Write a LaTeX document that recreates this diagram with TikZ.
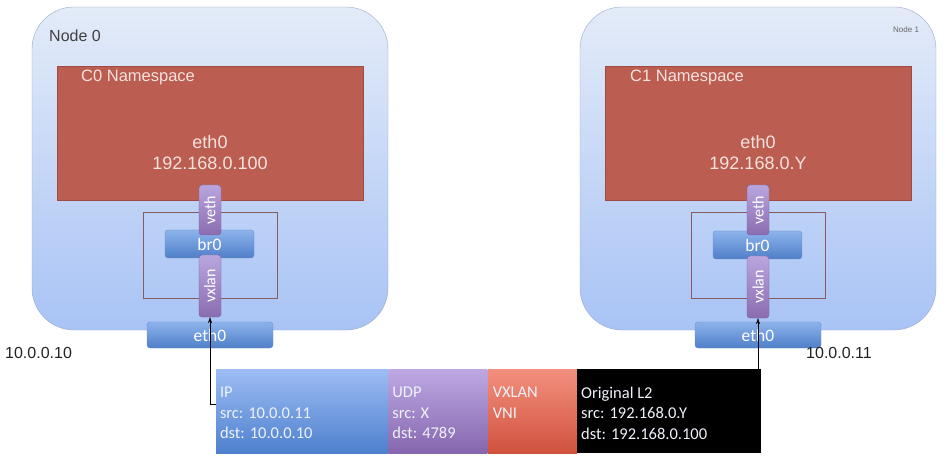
\documentclass[tikz,border=0pt]{standalone}
\usepackage{fontspec}
\setmainfont{Liberation Sans}
\newfontfamily\calibri{Carlito}
\usetikzlibrary{positioning, arrows.meta}

\definecolor{hosttop}{HTML}{E3EBF8}
\definecolor{hostbot}{HTML}{A8C3F5}
\definecolor{hostline}{HTML}{9AAAC8}
\definecolor{nsred}{HTML}{BB5D50}
\definecolor{nsline}{HTML}{A04A40}
\definecolor{nstext}{HTML}{F6E2DE}
\definecolor{brline}{HTML}{8A5A62}
\definecolor{devtop}{HTML}{8DB3EC}
\definecolor{devbot}{HTML}{4F7FC8}
\definecolor{devline}{HTML}{6A90CC}
\definecolor{porttop}{HTML}{B9A6DE}
\definecolor{portbot}{HTML}{8A6CB0}
\definecolor{portline}{HTML}{7A62A0}
\definecolor{iptop}{HTML}{9DBDF4}
\definecolor{ipbot}{HTML}{4E80CE}
\definecolor{udptop}{HTML}{BEA9E4}
\definecolor{udpbot}{HTML}{8566AE}
\definecolor{vxtop}{HTML}{F3907E}
\definecolor{vxbot}{HTML}{D0523E}
\definecolor{pkttext}{HTML}{EEF2FA}
\definecolor{lbltext}{HTML}{222222}

\begin{document}
\begin{tikzpicture}[x=1pt, y=-1pt, >={Stealth[length=6pt,width=4pt]},
    host/.style = {draw=hostline, rounded corners=42pt, top color=hosttop, bottom color=hostbot, minimum width=356pt, minimum height=323pt},
    ns/.style = {draw=nsline, fill=nsred, minimum width=306pt, minimum height=134pt},
    nslbl/.style = {text=nstext, font=\fontsize{16.5}{19}\selectfont},
    bridge/.style = {draw=brline, minimum width=134pt, minimum height=86pt},
    dev/.style = {draw=devline, rounded corners=3pt, top color=devtop, bottom color=devbot, text=white, inner sep=0pt, font=\calibri\fontsize{17.5}{20}\selectfont},
    port/.style = {draw=portline, rounded corners=3pt, top color=porttop, bottom color=portbot, text=white, rotate=90, inner sep=0pt, minimum height=22pt, font=\calibri\fontsize{16}{19}\selectfont},
    lbl/.style = {anchor=west, inner sep=0pt, text=lbltext, font=\fontsize{16}{19}\selectfont},
    seg/.style = {minimum height=84pt, inner sep=0pt},
    pkt/.style = {anchor=north west, align=left, inner sep=0pt, text=pkttext, font=\calibri\fontsize{16.5}{20.5}\selectfont}]
    \useasboundingbox (0,0) rectangle (950,462);

    % Node 0
    \node[host] (node0) at (210,168.5) {};
    \node[lbl, text=black!75] (node0lbl) at (49,36) {Node 0};
    \node[ns] (ns0) at (210,133) {};
    \node[nslbl, anchor=west, inner sep=0pt] (ns0lbl) at (81,77) {C0 Namespace};
    \node[nslbl, align=center, font=\fontsize{18}{21}\selectfont] (ns0eth) at (210,153) {eth0\\192.168.0.100};
    \node[bridge] (bridge0) at (210,255) {};
    \node[dev, minimum width=89pt, minimum height=28pt] (br0) at (209.5,244) {br0};
    \node[port, minimum width=50pt] (veth0) at (210,210) {veth};
    \node[port, minimum width=62pt] (vxlan0) at (210,286) {vxlan};
    \node[dev, minimum width=126pt, minimum height=26pt] (eth0) at (210,335) {eth0};
    \node[lbl] (addr0) at (5,353) {10.0.0.10};

    % Node 1
    \node[host] (node1) at (758,168.5) {};
    \node[lbl, text=black!60, font=\fontsize{8}{9}\selectfont] (node1lbl) at (893,30) {Node 1};
    \node[ns] (ns1) at (758,133) {};
    \node[nslbl, anchor=west, inner sep=0pt] (ns1lbl) at (630,77) {C1 Namespace};
    \node[nslbl, align=center, font=\fontsize{18}{21}\selectfont] (ns1eth) at (758,153) {eth0\\192.168.0.Y};
    \node[bridge] (bridge1) at (758,255) {};
    \node[dev, minimum width=89pt, minimum height=28pt] (br1) at (757.5,245) {br0};
    \node[port, minimum width=50pt] (veth1) at (758,210) {veth};
    \node[port, minimum width=62pt] (vxlan1) at (758,287) {vxlan};
    \node[dev, minimum width=126pt, minimum height=26pt] (eth1) at (758,335) {eth0};
    \node[lbl] (addr1) at (806,353) {10.0.0.11};

    % packet
    \node[seg, minimum width=172pt, top color=iptop, bottom color=ipbot] (ip) at (302,411) {};
    \node[seg, minimum width=99pt, top color=udptop, bottom color=udpbot, right=0pt of ip] (udp) {};
    \node[seg, minimum width=89pt, top color=vxtop, bottom color=vxbot, right=0pt of udp] (vx) {};
    \node[seg, minimum width=184pt, fill=black, right=0pt of vx] (l2) {};
    \node[pkt] (iptxt) at ([xshift=4pt,yshift=-18pt]ip.north west) {IP\\src: 10.0.0.11\\dst: 10.0.0.10};
    \node[pkt] (udptxt) at ([xshift=4pt,yshift=-18pt]udp.north west) {UDP\\src: X\\dst: 4789};
    \node[pkt] (vxtxt) at ([xshift=5pt,yshift=-18pt]vx.north west) {VXLAN\\VNI};
    \node[pkt] (l2txt) at ([xshift=4pt,yshift=-18pt]l2.north west) {Original L2\\src: 192.168.0.Y\\dst: 192.168.0.100};

    \draw[->] ([yshift=7pt]ip.west) -| (vxlan0.west);
    \draw[->] (l2.north east -| vxlan1) -- (vxlan1.west);
\end{tikzpicture}
\end{document}
